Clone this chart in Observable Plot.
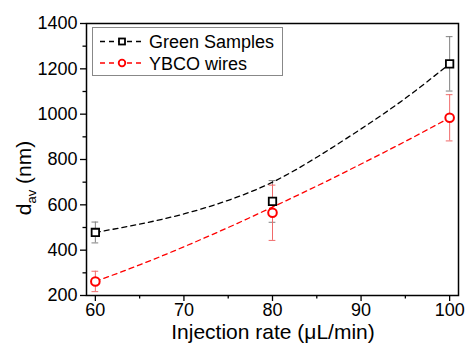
<!DOCTYPE html>
<html>
<head>
<meta charset="utf-8">
<script src="https://cdn.jsdelivr.net/npm/d3@7"></script>
<script src="https://cdn.jsdelivr.net/npm/@observablehq/plot@0.6"></script>
<style>
  html, body { margin: 0; padding: 0; background: #fff; }
  #chart { position: relative; width: 467px; height: 346px; }
  svg { font-family: "Liberation Sans", Arial, sans-serif; }
</style>
</head>
<body>
<div id="chart"></div>
<script>
// Measured points
const rates = [60, 80, 100];
const greenValues = [478, 615, 1222];
const greenErrors = [46, 92, 120];
const ybcoValues = [262, 565, 984];
const ybcoErrors = [45, 122, 102];

// Fitted (dashed) curves
const fitRates = [60, 65, 70, 75, 80, 85, 90, 95, 100];
const greenFit = [478, 515, 560, 620, 700, 810, 935, 1070, 1222];
const ybcoFit = [262, 335, 415, 500, 590, 683, 780, 880, 984];

// Ticks
const yMajor = [200, 400, 600, 800, 1000, 1200, 1400];
const yMinor = [300, 500, 700, 900, 1100, 1300];
const xMajor = [60, 70, 80, 90, 100];
const xMinor = [65, 75, 85, 95];

const seriesNames = ["Green Samples", "YBCO wires"];

const green = rates.map((x, i) => ({x, y: greenValues[i], e: greenErrors[i]}));
const ybco = rates.map((x, i) => ({x, y: ybcoValues[i], e: ybcoErrors[i]}));
const gFit = fitRates.map((x, i) => ({x, y: greenFit[i]}));
const yFit = fitRates.map((x, i) => ({x, y: ybcoFit[i]}));

const capHalf = 0.38;
const gCol = "#000000", rCol = "#ff0000";
const gBar = "#808080", rBar = "#f06a6a";

function errMarks(data, color) {
  return [
    Plot.ruleX(data, {x: "x", y1: d => d.y - d.e, y2: d => d.y + d.e, stroke: color, strokeWidth: 1}),
    Plot.ruleY(data, {x1: d => d.x - capHalf, x2: d => d.x + capHalf, y: d => d.y + d.e, stroke: color, strokeWidth: 1}),
    Plot.ruleY(data, {x1: d => d.x - capHalf, x2: d => d.x + capHalf, y: d => d.y - d.e, stroke: color, strokeWidth: 1})
  ];
}

const plot = Plot.plot({
  width: 467,
  height: 346,
  marginLeft: 86,
  marginRight: 9,
  marginTop: 23,
  marginBottom: 51,
  style: {fontFamily: "Liberation Sans, Arial, sans-serif", background: "white"},
  x: {domain: [59, 101]},
  y: {domain: [200, 1400]},
  marks: [
    Plot.axisY({ticks: yMajor, tickSize: 6, tickPadding: 3, fontSize: 18, tickFormat: d3.format("d"), label: null, stroke: "black", strokeWidth: 1.3, fill: "black"}),
    Plot.axisY({ticks: yMinor, tickSize: 3.5, tickFormat: () => "", label: null, strokeWidth: 1.3}),
    Plot.axisX({ticks: xMajor, tickSize: 6, tickPadding: 2, fontSize: 18, tickFormat: d3.format("d"), label: null, strokeWidth: 1.3, fill: "black"}),
    Plot.axisX({ticks: xMinor, tickSize: 3.5, tickFormat: () => "", label: null, strokeWidth: 1.3}),
    ...errMarks(green, gBar),
    ...errMarks(ybco, rBar),
    Plot.line(gFit, {x: "x", y: "y", stroke: gCol, strokeWidth: 1.3, strokeDasharray: "5,4", curve: "natural"}),
    Plot.line(yFit, {x: "x", y: "y", stroke: rCol, strokeWidth: 1.3, strokeDasharray: "5,4", curve: "natural"}),
    Plot.dot(green, {x: "x", y: "y", symbol: "square", r: 4.2, stroke: gCol, strokeWidth: 1.8, fill: "white"}),
    Plot.dot(ybco, {x: "x", y: "y", symbol: "circle", r: 4.3, stroke: rCol, strokeWidth: 2, fill: "white"}),
    Plot.frame({stroke: "black", strokeWidth: 1.5})
  ]
});

document.getElementById("chart").appendChild(plot);

const svg = d3.select(plot);

// Y axis title with subscript
const yt = svg.append("text")
  .attr("transform", "translate(31,178) rotate(-90)")
  .attr("text-anchor", "middle")
  .attr("font-size", 21)
  .attr("fill", "black");
yt.append("tspan").text("d");
yt.append("tspan").attr("font-size", 13).attr("dy", "0.35em").text("av");
yt.append("tspan").attr("dy", "-0.23em").text(" (nm)");

// X axis title
svg.append("text")
  .attr("x", 273).attr("y", 339)
  .attr("text-anchor", "middle")
  .attr("font-size", 21)
  .attr("fill", "black")
  .text("Injection rate (\u03bcL/min)");

// Legend
const lg = svg.append("g").attr("text-anchor", "start");
lg.append("rect").attr("x", 92.5).attr("y", 27.5).attr("width", 190).attr("height", 48)
  .attr("fill", "white").attr("stroke", "#888").attr("stroke-width", 1);
const entries = [
  {name: seriesNames[0], color: gCol, sym: "square", y: 41.5},
  {name: seriesNames[1], color: rCol, sym: "circle", y: 63}
];
entries.forEach(e => {
  lg.append("line").attr("x1", 100).attr("x2", 144).attr("y1", e.y).attr("y2", e.y)
    .attr("stroke", e.color).attr("stroke-width", 1.3).attr("stroke-dasharray", "5,4");
  if (e.sym === "square") {
    lg.append("rect").attr("x", 119).attr("y", e.y - 3).attr("width", 6).attr("height", 6)
      .attr("fill", "white").attr("stroke", e.color).attr("stroke-width", 1.8);
  } else {
    lg.append("circle").attr("cx", 122).attr("cy", e.y).attr("r", 3.3)
      .attr("fill", "white").attr("stroke", e.color).attr("stroke-width", 1.8);
  }
  lg.append("text").attr("x", 149).attr("y", e.y + 6.5).attr("text-anchor", "start")
    .attr("font-size", 18).attr("fill", "black").text(e.name);
});
</script>
</body>
</html>
